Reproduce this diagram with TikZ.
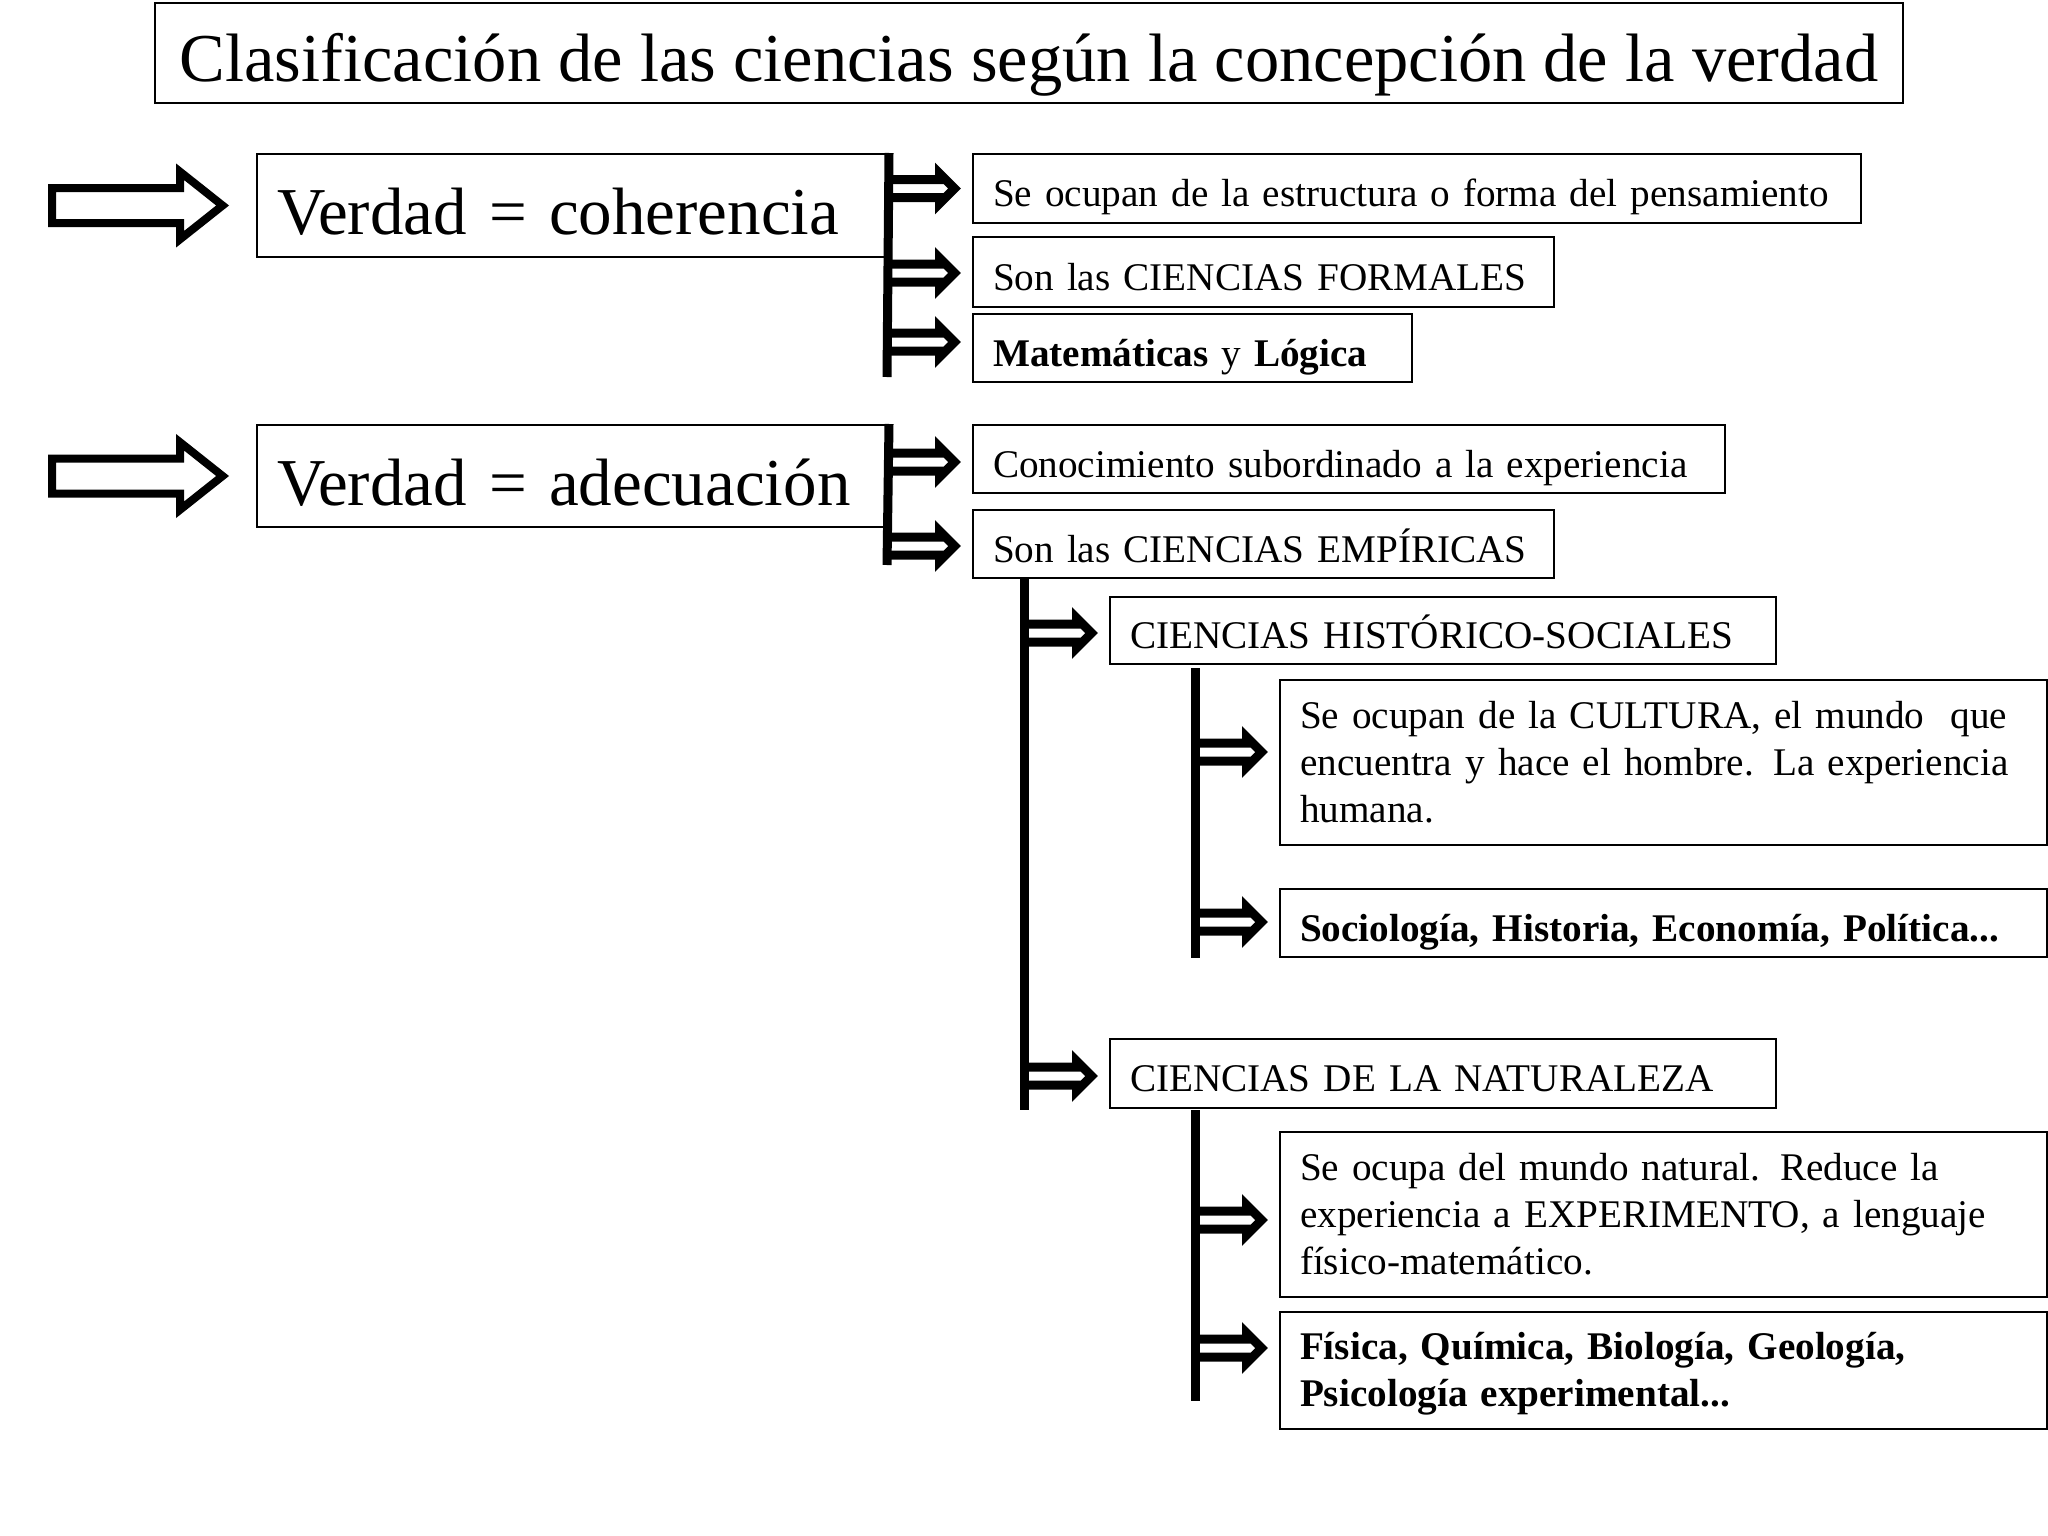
\documentclass[tikz,border=0pt]{standalone}
\usepackage{fontspec}
\setmainfont{Liberation Serif}
\usetikzlibrary{calc}
\newcommand{\bigarrow}[1]{\draw[hollow,line width=8pt,shift={(#1.west)}]
(-204,-17.5) -- (-76,-17.5) -- (-76,-33.8) -- (-33.4,0) -- (-76,33.8) -- (-76,17.5) -- (-204,17.5) -- cycle;}
\newcommand{\harrow}[2][0]{\draw[hollow,shift={($(#2.west)+(0,#1)$)}]
(-85,-9) -- (-32.5,-9) -- (-32.5,-15.1) -- (-17.4,0) -- (-32.5,15.1) -- (-32.5,9) -- (-85,9);}

\begin{document}
\begin{tikzpicture}[x=1pt,y=-1pt,
box/.style={draw,line width=2pt,anchor=north west,inner xsep=20pt,inner ysep=0pt,align=left,font=\fontsize{39.2}{47}\selectfont},
one/.style={text height=36pt,text depth=0pt},
big/.style={font=\fontsize{67}{78}\selectfont,text height=58pt,text depth=0pt},
hollow/.style={draw,line width=9pt,line join=miter},
bar/.style={line width=9pt}]
\useasboundingbox (0,0) rectangle (2048,1536);
\node[draw,line width=2pt,anchor=north west,minimum width=1748pt,minimum height=100pt,text height=58pt,text depth=0pt,font=\fontsize{68.5}{80}\selectfont] (title) at (154,2) {Clasificación de las ciencias según la concepción de la verdad};
% coherencia
\node[box,big,text width=591pt,minimum height=103pt] (coh) at (256,153) {\mbox{Verdad = coherencia}};
\node[box,one,text width=848pt,minimum height=69pt] (a) at (972,153) {\mbox{Se ocupan de la estructura o forma del pensamiento}};
\node[box,one,text width=541pt,minimum height=70pt] (b) at (972,236) {\mbox{Son las CIENCIAS FORMALES}};
\node[box,one,text width=399pt,minimum height=68pt] (c) at (972,313) {\mbox{\textbf{Matemáticas} y \textbf{Lógica}}};
% adecuacion
\node[box,big,text width=591pt,minimum height=102pt] (ade) at (256,424) {\mbox{Verdad = adecuación}};
\node[box,one,text width=712pt,minimum height=68pt] (d) at (972,424) {\mbox{Conocimiento subordinado a la experiencia}};
\node[box,one,text width=541pt,minimum height=68pt] (e) at (972,509) {\mbox{Son las CIENCIAS EMPÍRICAS}};
\node[box,one,text width=626pt,minimum height=67pt] (f) at (1109,596) {\mbox{CIENCIAS HISTÓRICO-SOCIALES}};
\node[box,text width=727pt,minimum height=165pt] (h) at (1279,679) {Se ocupan de la CULTURA, el mundo~ que\\encuentra y hace el hombre. La experiencia\\humana.};
\node[box,one,text width=727pt,minimum height=68pt] (i) at (1279,888) {\mbox{\textbf{Sociología, Historia, Economía, Política...}}};
\node[box,one,text width=626pt,minimum height=69pt] (g) at (1109,1038) {\mbox{CIENCIAS DE LA NATURALEZA}};
\node[box,text width=727pt,minimum height=165pt] (j) at (1279,1131) {Se ocupa del mundo natural. Reduce la\\experiencia a EXPERIMENTO, a lenguaje\\físico-matemático.};
\node[box,text width=727pt,minimum height=117pt,text height=32pt,text depth=54pt] (k) at (1279,1311) {\textbf{Física, Química, Biología, Geología,}\\\textbf{Psicología experimental...}};
% bars
\draw[bar] (coh.north east) -- ($(c.south west)+(-85,-6)$);
\draw[bar] (ade.north east) -- ($(e.south west)+(-85,-14)$);
\draw[bar] ($(e.south west)+(52,0)$) -- ($(g.south west)+(-85,1)$);
\draw[bar] ($(f.south west)+(86,3)$) -- ($(i.south west)+(-84,0)$);
\draw[bar] ($(g.south west)+(86,1)$) -- ($(k.south west)+(-84,-29)$);
% arrows
\bigarrow{coh}
\bigarrow{ade}
\harrow{a}
\harrow[1]{b}
\harrow[-6]{c}
\harrow[3]{d}
\harrow[2]{e}
\harrow[2.5]{f}
\harrow[-10.5]{h}
\harrow[-1]{i}
\harrow[2.5]{g}
\harrow[5.5]{j}
\harrow[-22.5]{k}
\end{tikzpicture}
\end{document}
